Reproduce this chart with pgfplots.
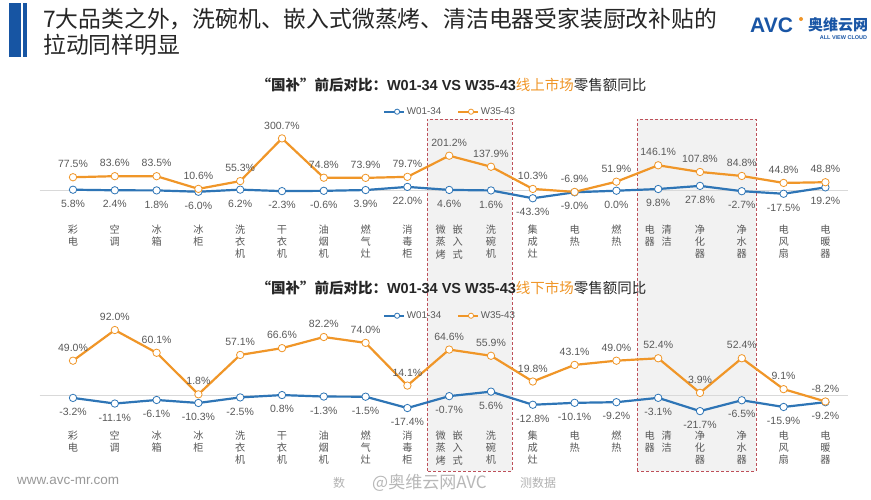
\documentclass[border=0pt]{standalone}
\usepackage{pgfplots}
\pgfplotsset{compat=1.18}
\usepackage{fontspec}
\setmainfont{Liberation Sans}
\newfontfamily\cjk{Noto Sans CJK SC}
\definecolor{orangeL}{RGB}{240,150,40}
\definecolor{blueL}{RGB}{46,117,182}
\definecolor{lblgray}{RGB}{89,89,89}
\definecolor{titledark}{RGB}{38,38,38}
\definecolor{boxfill}{RGB}{242,242,242}
\definecolor{boxred}{RGB}{190,80,90}
\definecolor{barblue}{RGB}{23,85,163}
\definecolor{logoblue}{RGB}{25,85,165}
\newcommand{\wzk}{\begin{tabular}{@{}c@{\hspace{7pt}}c@{}}微&嵌\\蒸&入\\烤&式\end{tabular}}
\newcommand{\qjdq}{\begin{tabular}{@{}c@{\hspace{7pt}}c@{}}电&清\\器&洁\end{tabular}}
\pgfplotsset{
  mychart/.style={
    anchor=south west, x=41.8pt,
    xmin=-0.8, xmax=18.55,
    clip=false,
    axis line style={draw=none},
    tick style={draw=none},
    ytick=\empty,
    xtick={0,...,18},
    xticklabels={彩\\电, 空\\调, 冰\\箱, 冰\\柜, 洗\\衣\\机, 干\\衣\\机, 油\\烟\\机, 燃\\气\\灶, 消\\毒\\柜, \wzk, 洗\\碗\\机, 集\\成\\灶, 电\\热, 燃\\热, \qjdq, 净\\化\\器, 净\\水\\器, 电\\风\\扇, 电\\暖\\器},
    xticklabel style={anchor=north, inner sep=0pt, align=center, font=\cjk\fontsize{10.2}{12}\selectfont, text=lblgray},
    legend columns=2,
    legend style={anchor=center, draw=none, fill=none, font=\fontsize{9.8}{11}\selectfont, text=lblgray,
      /tikz/every even column/.append style={column sep=14pt}},
    legend image code/.code={\draw[##1, line width=1.6pt, mark size=2.6pt, mark repeat=2, mark phase=2] plot coordinates {(0pt,0pt) (13pt,0pt) (20pt,0pt)};},
  },
  bl/.style={blueL, line width=2.2pt, mark=*, mark size=3.7pt, mark options={fill=white, line width=0.8pt},
    nodes near coords, point meta=explicit symbolic,
    every node near coord/.append style={anchor=center, yshift=-14pt, font=\fontsize{10.5}{12}\selectfont, text=lblgray}},
  ol/.style={orangeL, line width=2.2pt, mark=*, mark size=3.7pt, mark options={fill=white, line width=0.8pt},
    nodes near coords, point meta=explicit symbolic,
    every node near coord/.append style={anchor=center, yshift=13pt, font=\fontsize{10.5}{12}\selectfont, text=lblgray}},
}
\begin{document}
\begin{tikzpicture}[x=1pt,y=1pt]
\useasboundingbox (0,0) rectangle (871,500);
\fill[white] (0,0) rectangle (871,500);
% title bars
\fill[barblue] (9,443) rectangle (20.7,497);
\fill[barblue] (22.7,443) rectangle (26.7,497);
\node[anchor=base west, inner sep=0pt, font=\cjk\fontsize{22.8}{26}\selectfont, text=titledark] at (43,472) {7大品类之外，洗碗机、嵌入式微蒸烤、清洁电器受家装厨改补贴的};
\node[anchor=base west, inner sep=0pt, font=\cjk\fontsize{22.8}{26}\selectfont, text=titledark] at (43,446) {拉动同样明显};
% logo
\node[anchor=base west, inner sep=0pt, font=\bfseries\fontsize{21}{24}\selectfont, text=logoblue] at (750,467) {AVC};
\fill[orangeL] (801,481) circle (2);
\node[anchor=west, inner sep=0pt, font=\cjk\bfseries\fontsize{15}{17}\selectfont, text=logoblue] at (808,475) {奥维云网};
\node[inner sep=0pt, font=\bfseries\fontsize{5.5}{6}\selectfont, text=logoblue] at (843.5,462) {ALL VIEW CLOUD};
% highlight boxes
\filldraw[fill=boxfill, draw=boxred, line width=0.9pt, dash pattern=on 3pt off 2pt] (427,29) rectangle (512,381);
\filldraw[fill=boxfill, draw=boxred, line width=0.9pt, dash pattern=on 3pt off 2pt] (637,29) rectangle (756,381);
% chart titles
\node[font=\fontsize{14.5}{17}\selectfont, text=titledark, inner sep=0pt] at (451.5,415) {{\cjk\bfseries “国补”前后对比：}\textbf{W01-34 VS W35-43}{\cjk\color{orangeL}线上市场}{\cjk 零售额同比}};
\node[font=\fontsize{14.5}{17}\selectfont, text=titledark, inner sep=0pt] at (451.5,212) {{\cjk\bfseries “国补”前后对比：}\textbf{W01-34 VS W35-43}{\cjk\color{orangeL}线下市场}{\cjk 零售额同比}};
% footer
\node[anchor=west, inner sep=0pt, font=\fontsize{13.5}{15}\selectfont, text=black!40] at (17,19) {www.avc-mr.com};
\node[anchor=west, inner sep=0pt, font=\cjk\fontsize{12}{14}\selectfont, text=black!30] at (333,17) {数};
\node[anchor=west, inner sep=0pt, font=\cjk\fontsize{17}{19}\selectfont, text=black!28] at (372,17) {@奥维云网AVC};
\node[anchor=west, inner sep=0pt, font=\cjk\fontsize{12}{14}\selectfont, text=black!30] at (520,17) {测数据};

% ---------- top chart (online) ----------
\begin{axis}[mychart, at={(39.56pt,275pt)}, y=0.174pt, ymin=-197, ymax=330,
  legend style={at={(axis description cs:0.5077,1.2355)}}]
\draw[black!15, line width=0.8pt] (axis cs:-0.8,0) -- (axis cs:18.55,0);
\addplot[bl] coordinates {
(0,5.8)[5.8\%] (1,2.4)[2.4\%] (2,1.8)[1.8\%] (3,-6.0)[-6.0\%] (4,6.2)[6.2\%]
(5,-2.3)[-2.3\%] (6,-0.6)[-0.6\%] (7,3.9)[3.9\%] (8,22.0)[22.0\%] (9,4.6)[4.6\%]
(10,1.6)[1.6\%] (11,-43.3)[-43.3\%] (12,-9.0)[-9.0\%] (13,0.0)[0.0\%] (14,9.8)[9.8\%]
(15,27.8)[27.8\%] (16,-2.7)[-2.7\%] (17,-17.5)[-17.5\%] (18,19.2)[19.2\%]};
\addlegendentry{W01-34}
\addplot[ol] coordinates {
(0,77.5)[77.5\%] (1,83.6)[83.6\%] (2,83.5)[83.5\%] (3,10.6)[10.6\%] (4,55.3)[55.3\%]
(5,300.7)[300.7\%] (6,74.8)[74.8\%] (7,73.9)[73.9\%] (8,79.7)[79.7\%] (9,201.2)[201.2\%]
(10,137.9)[137.9\%] (11,10.3)[10.3\%] (12,-6.9)[-6.9\%] (13,51.9)[51.9\%] (14,146.1)[146.1\%]
(15,107.8)[107.8\%] (16,84.8)[84.8\%] (17,44.8)[44.8\%] (18,48.8)[48.8\%]};
\addlegendentry{W35-43}
\end{axis}

% ---------- bottom chart (offline) ----------
\begin{axis}[mychart, at={(39.56pt,69pt)}, y=0.713pt, ymin=-49.6, ymax=110,
  legend style={at={(axis description cs:0.5077,1.013)}}]
\draw[black!15, line width=0.8pt] (axis cs:-0.8,0) -- (axis cs:18.55,0);
\addplot[bl] coordinates {
(0,-3.2)[-3.2\%] (1,-11.1)[-11.1\%] (2,-6.1)[-6.1\%] (3,-10.3)[-10.3\%] (4,-2.5)[-2.5\%]
(5,0.8)[0.8\%] (6,-1.3)[-1.3\%] (7,-1.5)[-1.5\%] (8,-17.4)[-17.4\%] (9,-0.7)[-0.7\%]
(10,5.6)[5.6\%] (11,-12.8)[-12.8\%] (12,-10.1)[-10.1\%] (13,-9.2)[-9.2\%] (14,-3.1)[-3.1\%]
(15,-21.7)[-21.7\%] (16,-6.5)[-6.5\%] (17,-15.9)[-15.9\%] (18,-9.2)[-9.2\%]};
\addlegendentry{W01-34}
\addplot[ol] coordinates {
(0,49.0)[49.0\%] (1,92.0)[92.0\%] (2,60.1)[60.1\%] (3,1.8)[1.8\%] (4,57.1)[57.1\%]
(5,66.6)[66.6\%] (6,82.2)[82.2\%] (7,74.0)[74.0\%] (8,14.1)[14.1\%] (9,64.6)[64.6\%]
(10,55.9)[55.9\%] (11,19.8)[19.8\%] (12,43.1)[43.1\%] (13,49.0)[49.0\%] (14,52.4)[52.4\%]
(15,3.9)[3.9\%] (16,52.4)[52.4\%] (17,9.1)[9.1\%] (18,-8.2)[-8.2\%]};
\addlegendentry{W35-43}
\end{axis}
\end{tikzpicture}
\end{document}
